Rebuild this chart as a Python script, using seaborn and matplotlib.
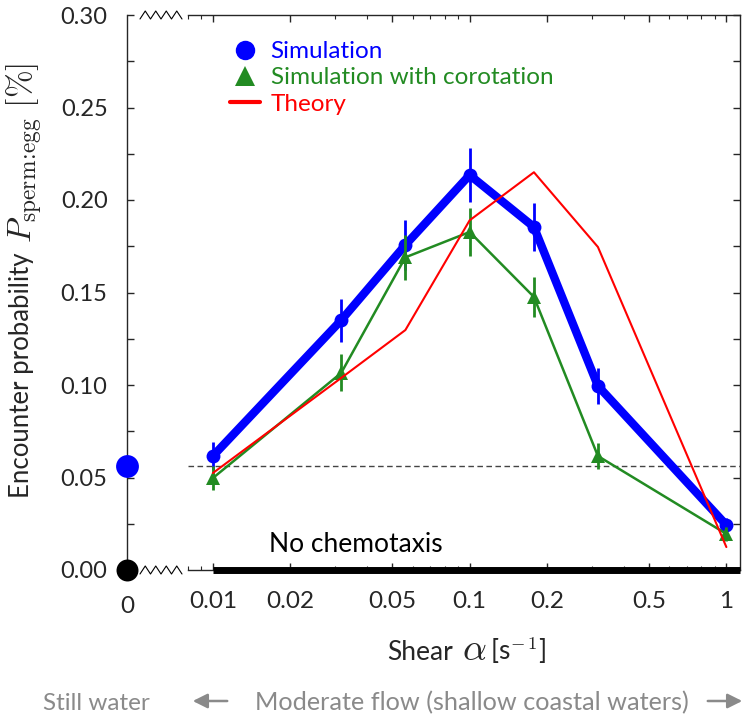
import numpy as np
import pandas as pd
import matplotlib.pyplot as plt
import seaborn as sns
from matplotlib.lines import Line2D
from matplotlib.patches import FancyArrowPatch
from matplotlib.ticker import LogLocator, NullFormatter, FixedLocator

# ----------------------------
# Data
# ----------------------------
shear = [0.01, 0.0316, 0.0562, 0.1, 0.178, 0.316, 1.0]
sim_prob = [0.0616, 0.1350, 0.1757, 0.2135, 0.1854, 0.0995, 0.0243]
sim_err = [0.0076, 0.0115, 0.0135, 0.0146, 0.0132, 0.0097, 0.0040]
corot_prob = [0.0497, 0.1065, 0.1690, 0.1827, 0.1476, 0.0616, 0.0195]
corot_err = [0.0065, 0.0100, 0.0120, 0.0130, 0.0110, 0.0070, 0.0040]
theory_prob = [0.0524, 0.1038, 0.1297, 0.1890, 0.2150, 0.1746, 0.0124]

still_water_prob = 0.056   # shear = 0
no_chemo_prob = 0.0        # no chemotaxis

shear_ticks = [0.01, 0.02, 0.05, 0.1, 0.2, 0.5, 1]
shear_tick_labels = ["0.01", "0.02", "0.05", "0.1", "0.2", "0.5", "1"]
prob_ticks = [0.00, 0.05, 0.10, 0.15, 0.20, 0.25, 0.30]
prob_tick_labels = ["0.00", "0.05", "0.10", "0.15", "0.20", "0.25", "0.30"]

BLUE = "#0000ff"
GREEN = "#228b22"
RED = "#ff0000"
GREY = "#8a8a8a"

# ----------------------------
# Style
# ----------------------------
sns.set_theme(style="ticks")
plt.rcParams["font.family"] = ["Lato", "DejaVu Sans"]
plt.rcParams["mathtext.fontset"] = "cm"
plt.rcParams["axes.linewidth"] = 1.0

W, H = 750, 719
fig = plt.figure(figsize=(W / 100, H / 100), dpi=100)


def fx(px):
    return np.asarray(px) / W


def fy(py):
    return 1 - np.asarray(py) / H


top_px, bot_px = 15, 570
ax_h = fy(top_px) - fy(bot_px)
ax = fig.add_axes([fx(188), fy(bot_px), fx(740) - fx(188), ax_h])
ax0 = fig.add_axes([fx(127), fy(bot_px), fx(12), ax_h])

# ----------------------------
# Main (log shear) panel
# ----------------------------
ax.set_xscale("log")
ax.set_xlim(0.008, 1.13)
ax.set_ylim(0, 0.30)

df_sim = pd.DataFrame({"shear": shear, "prob": sim_prob})
df_cor = pd.DataFrame({"shear": shear, "prob": corot_prob})
df_th = pd.DataFrame({"shear": shear, "prob": theory_prob})

ax.axhline(still_water_prob, color="#444444", lw=1.0, ls=(0, (4, 2.5)), zorder=1)

sns.lineplot(data=df_sim, x="shear", y="prob", color=BLUE, lw=6, marker="o",
             markersize=10, markeredgewidth=0, estimator=None, ax=ax, zorder=3)
ax.errorbar(shear, sim_prob, yerr=sim_err, fmt="none", ecolor=BLUE,
            elinewidth=2, zorder=3)

sns.lineplot(data=df_cor, x="shear", y="prob", color=GREEN, lw=1.8, marker="^",
             markersize=10, markeredgewidth=0, estimator=None, ax=ax, zorder=4)
ax.errorbar(shear, corot_prob, yerr=corot_err, fmt="none", ecolor=GREEN,
            elinewidth=2, zorder=4)

sns.lineplot(data=df_th, x="shear", y="prob", color=RED, lw=1.5,
             estimator=None, ax=ax, zorder=5)

ax.hlines(no_chemo_prob, shear[0], ax.get_xlim()[1], color="black", lw=5,
          clip_on=False, zorder=6)
ax.text(0.0165, 0.0095, "No chemotaxis", fontsize=19, color="black")

ax.spines["left"].set_visible(False)
ax.xaxis.set_major_locator(FixedLocator(shear_ticks))
ax.set_xticklabels(shear_tick_labels)
ax.xaxis.set_minor_locator(LogLocator(base=10, subs=np.arange(1, 10)))
ax.xaxis.set_minor_formatter(NullFormatter())
ax.tick_params(axis="x", which="both", direction="in", top=True, bottom=True,
               labelsize=17.5, pad=15)
ax.tick_params(axis="x", which="major", length=5, width=1)
ax.tick_params(axis="x", which="minor", length=3, width=0.8)
ax.yaxis.tick_right()
ax.set_yticks(np.arange(0, 0.3001, 0.025))
ax.tick_params(axis="y", which="both", direction="in", left=False, right=True,
               labelright=False, length=5, width=1)
ax.set_xlabel("")
ax.set_ylabel("")

handles = [
    Line2D([], [], color=BLUE, marker="o", ls="none", ms=14, mew=0),
    Line2D([], [], color=GREEN, marker="^", ls="none", ms=14, mew=0),
    Line2D([], [], color=RED, lw=3),
]
ax.legend(handles, ["Simulation", "Simulation with corotation", "Theory"],
          loc="upper left", bbox_to_anchor=(0.076, 0.953), borderaxespad=0,
          borderpad=0, frameon=False, fontsize=17.5, handlelength=1.25,
          handletextpad=0.42, labelspacing=0.22,
          labelcolor=[BLUE, GREEN, RED])

# ----------------------------
# Zero-shear stub panel
# ----------------------------
ax0.set_xlim(0, 1)
ax0.set_ylim(0, 0.30)
for s in ("top", "right", "bottom"):
    ax0.spines[s].set_visible(False)
sns.scatterplot(x=[0], y=[still_water_prob], color=BLUE, s=270, linewidth=0,
                ax=ax0, clip_on=False, zorder=5)
sns.scatterplot(x=[0], y=[no_chemo_prob], color="black", s=250, linewidth=0,
                ax=ax0, clip_on=False, zorder=5)
ax0.set_xticks([0])
ax0.set_xticklabels(["0"])
ax0.tick_params(axis="x", length=0, labelsize=17.5, pad=19)
ax0.set_yticks(prob_ticks)
ax0.set_yticklabels(prob_tick_labels)
ax0.set_yticks(np.arange(0.025, 0.3, 0.05), minor=True)
ax0.tick_params(axis="y", which="both", direction="in", length=5, width=1,
                labelsize=17, pad=14)
ax0.set_xlabel("")
ax0.set_ylabel("")

# axis-break zigzags between the two panels
for y_px in (top_px, bot_px):
    xs = np.linspace(140, 182, 9)
    ys = y_px + 4 * np.array([1, -1, 1, -1, 1, -1, 1, -1, 1])
    fig.add_artist(Line2D(fx(xs), fy(ys), color="black", lw=0.8))

# ----------------------------
# Labels
# ----------------------------
fig.text(fx(29), fy(498), "Encounter probability", rotation=90,
         rotation_mode="anchor", ha="left", va="baseline", fontsize=18.5)
fig.text(fx(32), fy(243), r"$P_{\mathrm{sperm\!:\!egg}}\ [\%]$", rotation=90,
         rotation_mode="anchor", ha="left", va="baseline", fontsize=24)

fig.text(fx(387), fy(660), "Shear", ha="left", va="baseline", fontsize=19)
fig.text(fx(462), fy(660), r"$\alpha$", ha="left", va="baseline", fontsize=27)
fig.text(fx(490), fy(660), r"[s$^{-\,1}$]", ha="left", va="baseline",
         fontsize=19)

fig.text(fx(43), fy(710), "Still water", color=GREY, fontsize=17.5,
         ha="left", va="baseline")
fig.text(fx(255), fy(710), "Moderate flow (shallow coastal waters)",
         color=GREY, fontsize=18.2, ha="left", va="baseline")
for x0, x1 in ((230, 190), (705, 745)):
    fig.add_artist(FancyArrowPatch((fx(x0), fy(701)), (fx(x1), fy(701)),
                                   transform=fig.transFigure, arrowstyle="-|>",
                                   mutation_scale=22, color=GREY, lw=1.8))

fig.savefig("out.png", dpi=100)
